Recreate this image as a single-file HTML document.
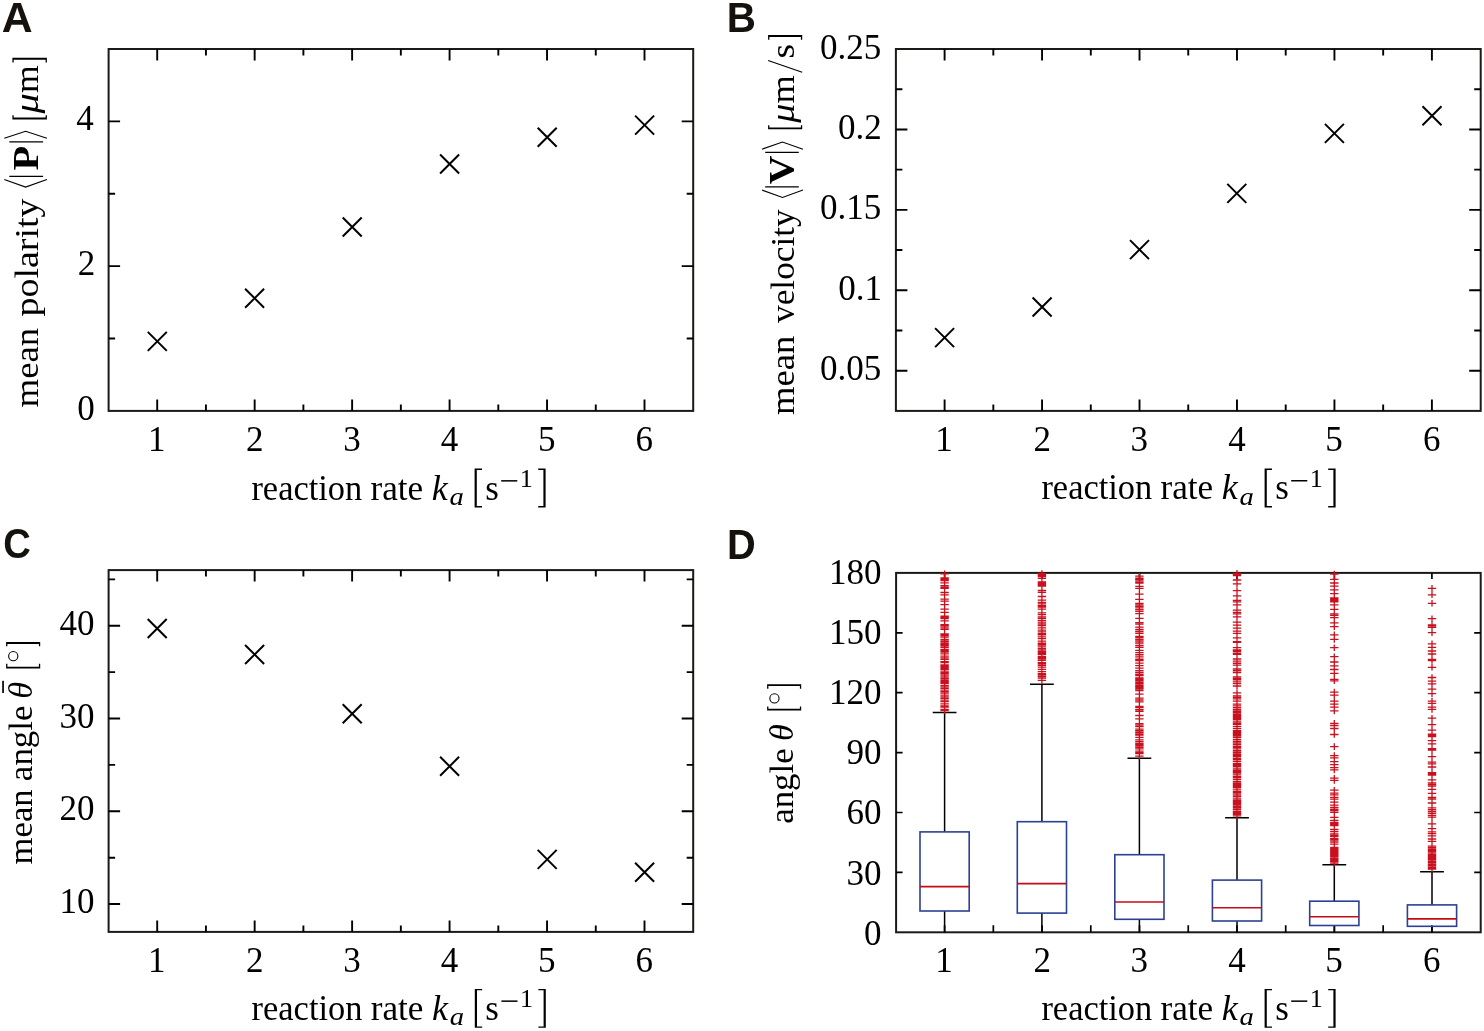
<!DOCTYPE html><html><head><meta charset="utf-8"><style>html,body{margin:0;padding:0;background:#fff;overflow:hidden}text{font-kerning:none} svg{will-change:transform}</style></head><body><svg width="1484" height="1031" viewBox="0 0 1484 1031" style="display:block">
<rect width="1484" height="1031" fill="#fff"/>
<text x="1.83" y="31.80" font-size="42.5" textLength="30.89" lengthAdjust="spacingAndGlyphs" style="font-family:'Liberation Sans', sans-serif;font-weight:bold;" fill="#15120d" >A</text>
<text x="726.80" y="32.10" font-size="42.5" textLength="29.13" lengthAdjust="spacingAndGlyphs" style="font-family:'Liberation Sans', sans-serif;font-weight:bold;" fill="#15120d" >B</text>
<text x="3.13" y="558.30" font-size="42.5" textLength="27.61" lengthAdjust="spacingAndGlyphs" style="font-family:'Liberation Sans', sans-serif;font-weight:bold;" fill="#15120d" >C</text>
<text x="726.94" y="558.70" font-size="42.5" textLength="28.73" lengthAdjust="spacingAndGlyphs" style="font-family:'Liberation Sans', sans-serif;font-weight:bold;" fill="#15120d" >D</text>
<rect x="108.6" y="49.0" width="584.60" height="361.90" fill="none" stroke="#1a1a16" stroke-width="2.0"/>
<path d="M157.20,410.9V399.4M157.20,49.0V60.5M254.66,410.9V399.4M254.66,49.0V60.5M352.12,410.9V399.4M352.12,49.0V60.5M449.58,410.9V399.4M449.58,49.0V60.5M547.04,410.9V399.4M547.04,49.0V60.5M644.50,410.9V399.4M644.50,49.0V60.5M205.93,410.9V404.4M205.93,49.0V55.5M303.39,410.9V404.4M303.39,49.0V55.5M400.85,410.9V404.4M400.85,49.0V55.5M498.31,410.9V404.4M498.31,49.0V55.5M595.77,410.9V404.4M595.77,49.0V55.5M108.6,266.14H120.1M693.2,266.14H681.7M108.6,121.38H120.1M693.2,121.38H681.7M108.6,338.52H115.1M693.2,338.52H686.7M108.6,193.76H115.1M693.2,193.76H686.7" stroke="#000" stroke-width="1.9" fill="none"/>
<path d="M147.80,331.90L166.80,350.90M147.80,350.90L166.80,331.90M245.10,288.70L264.10,307.70M245.10,307.70L264.10,288.70M342.70,217.50L361.70,236.50M342.70,236.50L361.70,217.50M440.10,154.50L459.10,173.50M440.10,173.50L459.10,154.50M537.70,127.70L556.70,146.70M537.70,146.70L556.70,127.70M635.10,115.60L654.10,134.60M635.10,134.60L654.10,115.60" stroke="#000" stroke-width="2" fill="none"/>
<text x="147.96" y="451.30" font-size="35" text-anchor="start" style="font-family:'Liberation Serif', serif;" fill="#000">1</text>
<text x="246.11" y="451.30" font-size="35" text-anchor="start" style="font-family:'Liberation Serif', serif;" fill="#000">2</text>
<text x="343.22" y="451.30" font-size="35" text-anchor="start" style="font-family:'Liberation Serif', serif;" fill="#000">3</text>
<text x="440.76" y="451.30" font-size="35" text-anchor="start" style="font-family:'Liberation Serif', serif;" fill="#000">4</text>
<text x="537.96" y="451.30" font-size="35" text-anchor="start" style="font-family:'Liberation Serif', serif;" fill="#000">5</text>
<text x="635.52" y="451.30" font-size="35" text-anchor="start" style="font-family:'Liberation Serif', serif;" fill="#000">6</text>
<text x="77.13" y="419.70" font-size="35" text-anchor="start" style="font-family:'Liberation Serif', serif;" fill="#000">0</text>
<text x="77.73" y="274.94" font-size="35" text-anchor="start" style="font-family:'Liberation Serif', serif;" fill="#000">2</text>
<text x="76.35" y="130.18" font-size="35" text-anchor="start" style="font-family:'Liberation Serif', serif;" fill="#000">4</text>
<rect x="895.9" y="49.0" width="584.80" height="361.90" fill="none" stroke="#1a1a16" stroke-width="2.0"/>
<path d="M944.60,410.9V399.4M944.60,49.0V60.5M1042.06,410.9V399.4M1042.06,49.0V60.5M1139.52,410.9V399.4M1139.52,49.0V60.5M1236.98,410.9V399.4M1236.98,49.0V60.5M1334.44,410.9V399.4M1334.44,49.0V60.5M1431.90,410.9V399.4M1431.90,49.0V60.5M993.33,410.9V404.4M993.33,49.0V55.5M1090.79,410.9V404.4M1090.79,49.0V55.5M1188.25,410.9V404.4M1188.25,49.0V55.5M1285.71,410.9V404.4M1285.71,49.0V55.5M1383.17,410.9V404.4M1383.17,49.0V55.5M895.9,370.69H907.4M1480.7,370.69H1469.2M895.9,290.27H907.4M1480.7,290.27H1469.2M895.9,209.85H907.4M1480.7,209.85H1469.2M895.9,129.43H907.4M1480.7,129.43H1469.2M895.9,330.48H902.4M1480.7,330.48H1474.2M895.9,250.06H902.4M1480.7,250.06H1474.2M895.9,169.64H902.4M1480.7,169.64H1474.2M895.9,89.22H902.4M1480.7,89.22H1474.2" stroke="#000" stroke-width="1.9" fill="none"/>
<path d="M935.10,328.10L954.10,347.10M935.10,347.10L954.10,328.10M1032.60,297.50L1051.60,316.50M1032.60,316.50L1051.60,297.50M1130.00,240.10L1149.00,259.10M1130.00,259.10L1149.00,240.10M1227.30,183.90L1246.30,202.90M1227.30,202.90L1246.30,183.90M1324.90,123.90L1343.90,142.90M1324.90,142.90L1343.90,123.90M1422.50,106.30L1441.50,125.30M1422.50,125.30L1441.50,106.30" stroke="#000" stroke-width="2" fill="none"/>
<text x="935.36" y="451.30" font-size="35" text-anchor="start" style="font-family:'Liberation Serif', serif;" fill="#000">1</text>
<text x="1033.51" y="451.30" font-size="35" text-anchor="start" style="font-family:'Liberation Serif', serif;" fill="#000">2</text>
<text x="1130.62" y="451.30" font-size="35" text-anchor="start" style="font-family:'Liberation Serif', serif;" fill="#000">3</text>
<text x="1228.16" y="451.30" font-size="35" text-anchor="start" style="font-family:'Liberation Serif', serif;" fill="#000">4</text>
<text x="1325.36" y="451.30" font-size="35" text-anchor="start" style="font-family:'Liberation Serif', serif;" fill="#000">5</text>
<text x="1422.92" y="451.30" font-size="35" text-anchor="start" style="font-family:'Liberation Serif', serif;" fill="#000">6</text>
<text x="819.92" y="380.29" font-size="35" text-anchor="start" style="font-family:'Liberation Serif', serif;" fill="#000">0.05</text>
<text x="838.15" y="299.87" font-size="35" text-anchor="start" style="font-family:'Liberation Serif', serif;" fill="#000">0.1</text>
<text x="819.92" y="219.45" font-size="35" text-anchor="start" style="font-family:'Liberation Serif', serif;" fill="#000">0.15</text>
<text x="837.98" y="139.03" font-size="35" text-anchor="start" style="font-family:'Liberation Serif', serif;" fill="#000">0.2</text>
<text x="819.92" y="58.61" font-size="35" text-anchor="start" style="font-family:'Liberation Serif', serif;" fill="#000">0.25</text>
<rect x="108.6" y="570.1" width="584.60" height="361.80" fill="none" stroke="#1a1a16" stroke-width="2.0"/>
<path d="M157.20,931.9V920.4M157.20,570.1V581.6M254.66,931.9V920.4M254.66,570.1V581.6M352.12,931.9V920.4M352.12,570.1V581.6M449.58,931.9V920.4M449.58,570.1V581.6M547.04,931.9V920.4M547.04,570.1V581.6M644.50,931.9V920.4M644.50,570.1V581.6M205.93,931.9V925.4M205.93,570.1V576.6M303.39,931.9V925.4M303.39,570.1V576.6M400.85,931.9V925.4M400.85,570.1V576.6M498.31,931.9V925.4M498.31,570.1V576.6M595.77,931.9V925.4M595.77,570.1V576.6M108.6,904.07H120.1M693.2,904.07H681.7M108.6,811.30H120.1M693.2,811.30H681.7M108.6,718.53H120.1M693.2,718.53H681.7M108.6,625.76H120.1M693.2,625.76H681.7M108.6,857.68H115.1M693.2,857.68H686.7M108.6,764.91H115.1M693.2,764.91H686.7M108.6,672.14H115.1M693.2,672.14H686.7M108.6,579.37H115.1M693.2,579.37H686.7" stroke="#000" stroke-width="1.9" fill="none"/>
<path d="M147.70,619.00L166.70,638.00M147.70,638.00L166.70,619.00M245.10,645.00L264.10,664.00M245.10,664.00L264.10,645.00M342.70,704.20L361.70,723.20M342.70,723.20L361.70,704.20M440.10,756.80L459.10,775.80M440.10,775.80L459.10,756.80M537.70,849.90L556.70,868.90M537.70,868.90L556.70,849.90M635.10,862.70L654.10,881.70M635.10,881.70L654.10,862.70" stroke="#000" stroke-width="2" fill="none"/>
<text x="147.96" y="971.80" font-size="35" text-anchor="start" style="font-family:'Liberation Serif', serif;" fill="#000">1</text>
<text x="246.11" y="971.80" font-size="35" text-anchor="start" style="font-family:'Liberation Serif', serif;" fill="#000">2</text>
<text x="343.22" y="971.80" font-size="35" text-anchor="start" style="font-family:'Liberation Serif', serif;" fill="#000">3</text>
<text x="440.76" y="971.80" font-size="35" text-anchor="start" style="font-family:'Liberation Serif', serif;" fill="#000">4</text>
<text x="537.96" y="971.80" font-size="35" text-anchor="start" style="font-family:'Liberation Serif', serif;" fill="#000">5</text>
<text x="635.52" y="971.80" font-size="35" text-anchor="start" style="font-family:'Liberation Serif', serif;" fill="#000">6</text>
<text x="59.53" y="913.07" font-size="35" text-anchor="start" style="font-family:'Liberation Serif', serif;" fill="#000">10</text>
<text x="59.53" y="820.30" font-size="35" text-anchor="start" style="font-family:'Liberation Serif', serif;" fill="#000">20</text>
<text x="59.53" y="727.53" font-size="35" text-anchor="start" style="font-family:'Liberation Serif', serif;" fill="#000">30</text>
<text x="59.53" y="634.76" font-size="35" text-anchor="start" style="font-family:'Liberation Serif', serif;" fill="#000">40</text>
<rect x="896.1" y="572.9" width="584.60" height="359.40" fill="none" stroke="#1a1a16" stroke-width="2.0"/>
<path d="M944.60,932.3V925.3M944.60,572.9V578.9M1042.06,932.3V925.3M1042.06,572.9V578.9M1139.52,932.3V925.3M1139.52,572.9V578.9M1236.98,932.3V925.3M1236.98,572.9V578.9M1334.44,932.3V925.3M1334.44,572.9V578.9M1431.90,932.3V925.3M1431.90,572.9V578.9M993.33,932.3V925.3M1090.79,932.3V925.3M1188.25,932.3V925.3M1285.71,932.3V925.3M1383.17,932.3V925.3M896.1,872.40H902.6M1480.7,872.40H1474.2M896.1,812.50H902.6M1480.7,812.50H1474.2M896.1,752.60H902.6M1480.7,752.60H1474.2M896.1,692.70H902.6M1480.7,692.70H1474.2M896.1,632.80H902.6M1480.7,632.80H1474.2" stroke="#000" stroke-width="1.7" fill="none"/>
<text x="935.36" y="972.20" font-size="35" text-anchor="start" style="font-family:'Liberation Serif', serif;" fill="#000">1</text>
<text x="1033.51" y="972.20" font-size="35" text-anchor="start" style="font-family:'Liberation Serif', serif;" fill="#000">2</text>
<text x="1130.62" y="972.20" font-size="35" text-anchor="start" style="font-family:'Liberation Serif', serif;" fill="#000">3</text>
<text x="1228.16" y="972.20" font-size="35" text-anchor="start" style="font-family:'Liberation Serif', serif;" fill="#000">4</text>
<text x="1325.36" y="972.20" font-size="35" text-anchor="start" style="font-family:'Liberation Serif', serif;" fill="#000">5</text>
<text x="1422.92" y="972.20" font-size="35" text-anchor="start" style="font-family:'Liberation Serif', serif;" fill="#000">6</text>
<text x="863.93" y="944.70" font-size="35" text-anchor="start" style="font-family:'Liberation Serif', serif;" fill="#000">0</text>
<text x="846.43" y="884.50" font-size="35" text-anchor="start" style="font-family:'Liberation Serif', serif;" fill="#000">30</text>
<text x="846.43" y="824.30" font-size="35" text-anchor="start" style="font-family:'Liberation Serif', serif;" fill="#000">60</text>
<text x="846.43" y="764.10" font-size="35" text-anchor="start" style="font-family:'Liberation Serif', serif;" fill="#000">90</text>
<text x="828.93" y="703.90" font-size="35" text-anchor="start" style="font-family:'Liberation Serif', serif;" fill="#000">120</text>
<text x="828.93" y="643.70" font-size="35" text-anchor="start" style="font-family:'Liberation Serif', serif;" fill="#000">150</text>
<text x="828.93" y="583.50" font-size="35" text-anchor="start" style="font-family:'Liberation Serif', serif;" fill="#000">180</text>
<path d="M944.60,932.3V911.00M944.60,831.90V712.40M932.70,712.40H956.50" stroke="#000" stroke-width="1.5" fill="none"/>
<rect x="920.00" y="831.90" width="49.20" height="79.10" fill="none" stroke="#2c4094" stroke-width="1.6"/>
<path d="M920.00,886.60H969.20" stroke="#c40c18" stroke-width="1.6"/>
<path d="M1041.90,932.3V913.10M1041.90,821.70V684.20M1030.00,684.20H1053.80" stroke="#000" stroke-width="1.5" fill="none"/>
<rect x="1017.30" y="821.70" width="49.20" height="91.40" fill="none" stroke="#2c4094" stroke-width="1.6"/>
<path d="M1017.30,883.60H1066.50" stroke="#c40c18" stroke-width="1.6"/>
<path d="M1139.40,932.3V919.30M1139.40,854.70V758.20M1127.50,758.20H1151.30" stroke="#000" stroke-width="1.5" fill="none"/>
<rect x="1114.80" y="854.70" width="49.20" height="64.60" fill="none" stroke="#2c4094" stroke-width="1.6"/>
<path d="M1114.80,902.00H1164.00" stroke="#c40c18" stroke-width="1.6"/>
<path d="M1237.00,932.3V921.00M1237.00,880.10V817.80M1225.10,817.80H1248.90" stroke="#000" stroke-width="1.5" fill="none"/>
<rect x="1212.40" y="880.10" width="49.20" height="40.90" fill="none" stroke="#2c4094" stroke-width="1.6"/>
<path d="M1212.40,907.70H1261.60" stroke="#c40c18" stroke-width="1.6"/>
<path d="M1334.30,932.3V925.50M1334.30,901.20V864.70M1322.40,864.70H1346.20" stroke="#000" stroke-width="1.5" fill="none"/>
<rect x="1309.70" y="901.20" width="49.20" height="24.30" fill="none" stroke="#2c4094" stroke-width="1.6"/>
<path d="M1309.70,916.70H1358.90" stroke="#c40c18" stroke-width="1.6"/>
<path d="M1432.00,932.3V926.30M1432.00,904.90V871.70M1420.10,871.70H1443.90" stroke="#000" stroke-width="1.5" fill="none"/>
<rect x="1407.40" y="904.90" width="49.20" height="21.40" fill="none" stroke="#2c4094" stroke-width="1.6"/>
<path d="M1407.40,918.90H1456.60" stroke="#c40c18" stroke-width="1.6"/>
<path d="M940.40,573.80H948.80M944.60,570.50V577.10M940.40,577.80H948.80M944.60,574.50V581.10M940.40,579.10H948.80M944.60,575.80V582.40M940.40,580.50H948.80M944.60,577.20V583.80M940.40,582.80H948.80M944.60,579.50V586.10M940.40,585.60H948.80M944.60,582.30V588.90M940.40,587.12H948.80M944.60,583.82V590.42M940.40,588.47H948.80M944.60,585.17V591.77M940.40,592.50H948.80M944.60,589.20V595.80M940.40,594.90H948.80M944.60,591.60V598.20M940.40,599.10H948.80M944.60,595.80V602.40M940.40,601.10H948.80M944.60,597.80V604.40M940.40,604.60H948.80M944.60,601.30V607.90M940.40,609.20H948.80M944.60,605.90V612.50M940.40,612.30H948.80M944.60,609.00V615.60M940.40,616.20H948.80M944.60,612.90V619.50M940.40,617.30H948.80M944.60,614.00V620.60M940.40,618.50H948.80M944.60,615.20V621.80M940.40,620.90H948.80M944.60,617.60V624.20M940.40,624.70H948.80M944.60,621.40V628.00M940.40,625.99H948.80M944.60,622.69V629.29M940.40,627.83H948.80M944.60,624.53V631.13M940.40,629.47H948.80M944.60,626.17V632.77M940.40,634.00H948.80M944.60,630.70V637.30M940.40,635.50H948.80M944.60,632.20V638.80M940.40,637.10H948.80M944.60,633.80V640.40M940.40,639.50H948.80M944.60,636.20V642.80M940.40,641.16H948.80M944.60,637.86V644.46M940.40,642.21H948.80M944.60,638.91V645.51M940.40,643.77H948.80M944.60,640.47V647.07M940.40,644.86H948.80M944.60,641.56V648.16M940.40,645.98H948.80M944.60,642.68V649.28M940.40,647.53H948.80M944.60,644.23V650.83M940.40,649.61H948.80M944.60,646.31V652.91M940.40,650.77H948.80M944.60,647.47V654.07M940.40,652.06H948.80M944.60,648.76V655.36M940.40,653.87H948.80M944.60,650.57V657.17M940.40,656.11H948.80M944.60,652.81V659.41M940.40,657.86H948.80M944.60,654.56V661.16M940.40,659.37H948.80M944.60,656.07V662.67M940.40,661.64H948.80M944.60,658.34V664.94M940.40,662.70H948.80M944.60,659.40V666.00M940.40,664.82H948.80M944.60,661.52V668.12M940.40,666.19H948.80M944.60,662.89V669.49M940.40,667.38H948.80M944.60,664.08V670.68M940.40,668.54H948.80M944.60,665.24V671.84M940.40,669.94H948.80M944.60,666.64V673.24M940.40,672.00H948.80M944.60,668.70V675.30M940.40,673.23H948.80M944.60,669.93V676.53M940.40,674.99H948.80M944.60,671.69V678.29M940.40,676.82H948.80M944.60,673.52V680.12M940.40,678.30H948.80M944.60,675.00V681.60M940.40,680.02H948.80M944.60,676.72V683.32M940.40,681.10H948.80M944.60,677.80V684.40M940.40,682.17H948.80M944.60,678.87V685.47M940.40,683.44H948.80M944.60,680.14V686.74M940.40,685.33H948.80M944.60,682.03V688.63M940.40,686.88H948.80M944.60,683.58V690.18M940.40,688.29H948.80M944.60,684.99V691.59M940.40,690.05H948.80M944.60,686.75V693.35M940.40,691.64H948.80M944.60,688.34V694.94M940.40,693.03H948.80M944.60,689.73V696.33M940.40,695.06H948.80M944.60,691.76V698.36M940.40,696.97H948.80M944.60,693.67V700.27M940.40,698.29H948.80M944.60,694.99V701.59M940.40,700.04H948.80M944.60,696.74V703.34M940.40,701.72H948.80M944.60,698.42V705.02M940.40,703.86H948.80M944.60,700.56V707.16M940.40,705.80H948.80M944.60,702.50V709.10M940.40,707.18H948.80M944.60,703.88V710.48M940.40,709.45H948.80M944.60,706.15V712.75M940.40,710.61H948.80M944.60,707.31V713.91M1037.70,573.50H1046.10M1041.90,570.20V576.80M1037.70,575.00H1046.10M1041.90,571.70V578.30M1037.70,576.50H1046.10M1041.90,573.20V579.80M1037.70,578.30H1046.10M1041.90,575.00V581.60M1037.70,582.00H1046.10M1041.90,578.70V585.30M1037.70,583.50H1046.10M1041.90,580.20V586.80M1037.70,585.00H1046.10M1041.90,581.70V588.30M1037.70,586.20H1046.10M1041.90,582.90V589.50M1037.70,590.50H1046.10M1041.90,587.20V593.80M1037.70,592.30H1046.10M1041.90,589.00V595.60M1037.70,596.50H1046.10M1041.90,593.20V599.80M1037.70,600.20H1046.10M1041.90,596.90V603.50M1037.70,602.46H1046.10M1041.90,599.16V605.76M1037.70,603.87H1046.10M1041.90,600.57V607.17M1037.70,605.76H1046.10M1041.90,602.46V609.06M1037.70,607.01H1046.10M1041.90,603.71V610.31M1037.70,609.15H1046.10M1041.90,605.85V612.45M1037.70,612.90H1046.10M1041.90,609.60V616.20M1037.70,614.70H1046.10M1041.90,611.40V618.00M1037.70,616.93H1046.10M1041.90,613.63V620.23M1037.70,618.37H1046.10M1041.90,615.07V621.67M1037.70,620.34H1046.10M1041.90,617.04V623.64M1037.70,622.17H1046.10M1041.90,618.87V625.47M1037.70,623.98H1046.10M1041.90,620.68V627.28M1037.70,625.62H1046.10M1041.90,622.32V628.92M1037.70,627.80H1046.10M1041.90,624.50V631.10M1037.70,630.12H1046.10M1041.90,626.82V633.42M1037.70,631.79H1046.10M1041.90,628.49V635.09M1037.70,633.72H1046.10M1041.90,630.42V637.02M1037.70,634.80H1046.10M1041.90,631.50V638.10M1037.70,636.78H1046.10M1041.90,633.48V640.08M1037.70,638.69H1046.10M1041.90,635.39V641.99M1037.70,641.08H1046.10M1041.90,637.78V644.38M1037.70,643.23H1046.10M1041.90,639.93V646.53M1037.70,644.63H1046.10M1041.90,641.33V647.93M1037.70,646.17H1046.10M1041.90,642.87V649.47M1037.70,648.10H1046.10M1041.90,644.80V651.40M1037.70,649.14H1046.10M1041.90,645.84V652.44M1037.70,650.78H1046.10M1041.90,647.48V654.08M1037.70,652.02H1046.10M1041.90,648.72V655.32M1037.70,653.18H1046.10M1041.90,649.88V656.48M1037.70,654.26H1046.10M1041.90,650.96V657.56M1037.70,656.34H1046.10M1041.90,653.04V659.64M1037.70,657.52H1046.10M1041.90,654.22V660.82M1037.70,658.87H1046.10M1041.90,655.57V662.17M1037.70,660.41H1046.10M1041.90,657.11V663.71M1037.70,662.63H1046.10M1041.90,659.33V665.93M1037.70,663.75H1046.10M1041.90,660.45V667.05M1037.70,665.38H1046.10M1041.90,662.08V668.68M1037.70,667.15H1046.10M1041.90,663.85V670.45M1037.70,669.38H1046.10M1041.90,666.08V672.68M1037.70,671.53H1046.10M1041.90,668.23V674.83M1037.70,673.74H1046.10M1041.90,670.44V677.04M1037.70,675.13H1046.10M1041.90,671.83V678.43M1037.70,676.71H1046.10M1041.90,673.41V680.01M1037.70,678.21H1046.10M1041.90,674.91V681.51M1037.70,680.45H1046.10M1041.90,677.15V683.75M1135.20,576.20H1143.60M1139.40,572.90V579.50M1135.20,578.10H1143.60M1139.40,574.80V581.40M1135.20,579.00H1143.60M1139.40,575.70V582.30M1135.20,580.00H1143.60M1139.40,576.70V583.30M1135.20,582.00H1143.60M1139.40,578.70V585.30M1135.20,583.00H1143.60M1139.40,579.70V586.30M1135.20,586.30H1143.60M1139.40,583.00V589.60M1135.20,588.30H1143.60M1139.40,585.00V591.60M1135.20,594.10H1143.60M1139.40,590.80V597.40M1135.20,599.40H1143.60M1139.40,596.10V602.70M1135.20,603.30H1143.60M1139.40,600.00V606.60M1135.20,604.80H1143.60M1139.40,601.50V608.10M1135.20,606.33H1143.60M1139.40,603.03V609.63M1135.20,607.93H1143.60M1139.40,604.63V611.23M1135.20,609.53H1143.60M1139.40,606.23V612.83M1135.20,611.46H1143.60M1139.40,608.16V614.76M1135.20,613.53H1143.60M1139.40,610.23V616.83M1135.20,618.30H1143.60M1139.40,615.00V621.60M1135.20,622.70H1143.60M1139.40,619.40V626.00M1135.20,624.20H1143.60M1139.40,620.90V627.50M1135.20,627.10H1143.60M1139.40,623.80V630.40M1135.20,629.50H1143.60M1139.40,626.20V632.80M1135.20,631.50H1143.60M1139.40,628.20V634.80M1135.20,633.40H1143.60M1139.40,630.10V636.70M1135.20,636.30H1143.60M1139.40,633.00V639.60M1135.20,637.51H1143.60M1139.40,634.21V640.81M1135.20,639.29H1143.60M1139.40,635.99V642.59M1135.20,641.01H1143.60M1139.40,637.71V644.31M1135.20,643.00H1143.60M1139.40,639.70V646.30M1135.20,645.50H1143.60M1139.40,642.20V648.80M1135.20,647.40H1143.60M1139.40,644.10V650.70M1135.20,650.40H1143.60M1139.40,647.10V653.70M1135.20,652.70H1143.60M1139.40,649.40V656.00M1135.20,654.73H1143.60M1139.40,651.43V658.03M1135.20,656.92H1143.60M1139.40,653.62V660.22M1135.20,659.20H1143.60M1139.40,655.90V662.50M1135.20,660.49H1143.60M1139.40,657.19V663.79M1135.20,663.13H1143.60M1139.40,659.83V666.43M1135.20,665.57H1143.60M1139.40,662.27V668.87M1135.20,668.17H1143.60M1139.40,664.87V671.47M1135.20,670.65H1143.60M1139.40,667.35V673.95M1135.20,672.48H1143.60M1139.40,669.18V675.78M1135.20,674.32H1143.60M1139.40,671.02V677.62M1135.20,675.68H1143.60M1139.40,672.38V678.98M1135.20,677.90H1143.60M1139.40,674.60V681.20M1135.20,679.20H1143.60M1139.40,675.90V682.50M1135.20,680.50H1143.60M1139.40,677.20V683.80M1135.20,682.04H1143.60M1139.40,678.74V685.34M1135.20,683.50H1143.60M1139.40,680.20V686.80M1135.20,685.24H1143.60M1139.40,681.94V688.54M1135.20,686.53H1143.60M1139.40,683.23V689.83M1135.20,687.73H1143.60M1139.40,684.43V691.03M1135.20,689.17H1143.60M1139.40,685.87V692.47M1135.20,690.53H1143.60M1139.40,687.23V693.83M1135.20,694.10H1143.60M1139.40,690.80V697.40M1135.20,698.20H1143.60M1139.40,694.90V701.50M1135.20,700.00H1143.60M1139.40,696.70V703.30M1135.20,701.80H1143.60M1139.40,698.50V705.10M1135.20,706.30H1143.60M1139.40,703.00V709.60M1135.20,707.43H1143.60M1139.40,704.13V710.73M1135.20,709.49H1143.60M1139.40,706.19V712.79M1135.20,711.27H1143.60M1139.40,707.97V714.57M1135.20,715.50H1143.60M1139.40,712.20V718.80M1135.20,718.90H1143.60M1139.40,715.60V722.20M1135.20,723.60H1143.60M1139.40,720.30V726.90M1135.20,725.10H1143.60M1139.40,721.80V728.40M1135.20,726.70H1143.60M1139.40,723.40V730.00M1135.20,729.20H1143.60M1139.40,725.90V732.50M1135.20,730.65H1143.60M1139.40,727.35V733.95M1135.20,732.24H1143.60M1139.40,728.94V735.54M1135.20,733.85H1143.60M1139.40,730.55V737.15M1135.20,735.12H1143.60M1139.40,731.82V738.42M1135.20,737.41H1143.60M1139.40,734.11V740.71M1135.20,739.90H1143.60M1139.40,736.60V743.20M1135.20,741.65H1143.60M1139.40,738.35V744.95M1135.20,743.43H1143.60M1139.40,740.13V746.73M1135.20,744.65H1143.60M1139.40,741.35V747.95M1135.20,745.89H1143.60M1139.40,742.59V749.19M1135.20,747.47H1143.60M1139.40,744.17V750.77M1135.20,748.94H1143.60M1139.40,745.64V752.24M1135.20,751.20H1143.60M1139.40,747.90V754.50M1135.20,752.53H1143.60M1139.40,749.23V755.83M1135.20,753.66H1143.60M1139.40,750.36V756.96M1135.20,756.09H1143.60M1139.40,752.79V759.39M1232.80,573.30H1241.20M1237.00,570.00V576.60M1232.80,574.50H1241.20M1237.00,571.20V577.80M1232.80,575.50H1241.20M1237.00,572.20V578.80M1232.80,580.00H1241.20M1237.00,576.70V583.30M1232.80,583.80H1241.20M1237.00,580.50V587.10M1232.80,590.60H1241.20M1237.00,587.30V593.90M1232.80,595.80H1241.20M1237.00,592.50V599.10M1232.80,600.30H1241.20M1237.00,597.00V603.60M1232.80,601.80H1241.20M1237.00,598.50V605.10M1232.80,604.80H1241.20M1237.00,601.50V608.10M1232.80,610.10H1241.20M1237.00,606.80V613.40M1232.80,612.40H1241.20M1237.00,609.10V615.70M1232.80,613.90H1241.20M1237.00,610.60V617.20M1232.80,616.90H1241.20M1237.00,613.60V620.20M1232.80,622.10H1241.20M1237.00,618.80V625.40M1232.80,625.20H1241.20M1237.00,621.90V628.50M1232.80,628.20H1241.20M1237.00,624.90V631.50M1232.80,631.20H1241.20M1237.00,627.90V634.50M1232.80,633.40H1241.20M1237.00,630.10V636.70M1232.80,637.90H1241.20M1237.00,634.60V641.20M1232.80,641.70H1241.20M1237.00,638.40V645.00M1232.80,642.40H1241.20M1237.00,639.10V645.70M1232.80,647.70H1241.20M1237.00,644.40V651.00M1232.80,650.00H1241.20M1237.00,646.70V653.30M1232.80,651.35H1241.20M1237.00,648.05V654.65M1232.80,653.09H1241.20M1237.00,649.79V656.39M1232.80,654.32H1241.20M1237.00,651.02V657.62M1232.80,659.00H1241.20M1237.00,655.70V662.30M1232.80,661.18H1241.20M1237.00,657.88V664.48M1232.80,663.24H1241.20M1237.00,659.94V666.54M1232.80,665.14H1241.20M1237.00,661.84V668.44M1232.80,668.80H1241.20M1237.00,665.50V672.10M1232.80,670.50H1241.20M1237.00,667.20V673.80M1232.80,672.50H1241.20M1237.00,669.20V675.80M1232.80,677.00H1241.20M1237.00,673.70V680.30M1232.80,678.57H1241.20M1237.00,675.27V681.87M1232.80,679.93H1241.20M1237.00,676.63V683.23M1232.80,681.91H1241.20M1237.00,678.61V685.21M1232.80,683.64H1241.20M1237.00,680.34V686.94M1232.80,686.00H1241.20M1237.00,682.70V689.30M1232.80,692.80H1241.20M1237.00,689.50V696.10M1232.80,695.80H1241.20M1237.00,692.50V699.10M1232.80,697.40H1241.20M1237.00,694.10V700.70M1232.80,698.86H1241.20M1237.00,695.56V702.16M1232.80,701.04H1241.20M1237.00,697.74V704.34M1232.80,704.10H1241.20M1237.00,700.80V707.40M1232.80,705.94H1241.20M1237.00,702.64V709.24M1232.80,707.72H1241.20M1237.00,704.42V711.02M1232.80,709.52H1241.20M1237.00,706.22V712.82M1232.80,711.24H1241.20M1237.00,707.94V714.54M1232.80,712.39H1241.20M1237.00,709.09V715.69M1232.80,713.86H1241.20M1237.00,710.56V717.16M1232.80,715.15H1241.20M1237.00,711.85V718.45M1232.80,716.08H1241.20M1237.00,712.78V719.38M1232.80,717.01H1241.20M1237.00,713.71V720.31M1232.80,718.22H1241.20M1237.00,714.92V721.52M1232.80,719.40H1241.20M1237.00,716.10V722.70M1232.80,721.07H1241.20M1237.00,717.77V724.37M1232.80,723.02H1241.20M1237.00,719.72V726.32M1232.80,724.41H1241.20M1237.00,721.11V727.71M1232.80,726.34H1241.20M1237.00,723.04V729.64M1232.80,728.33H1241.20M1237.00,725.03V731.63M1232.80,730.28H1241.20M1237.00,726.98V733.58M1232.80,731.58H1241.20M1237.00,728.28V734.88M1232.80,732.72H1241.20M1237.00,729.42V736.02M1232.80,733.87H1241.20M1237.00,730.57V737.17M1232.80,734.99H1241.20M1237.00,731.69V738.29M1232.80,736.11H1241.20M1237.00,732.81V739.41M1232.80,737.70H1241.20M1237.00,734.40V741.00M1232.80,739.59H1241.20M1237.00,736.29V742.89M1232.80,741.41H1241.20M1237.00,738.11V744.71M1232.80,742.84H1241.20M1237.00,739.54V746.14M1232.80,744.46H1241.20M1237.00,741.16V747.76M1232.80,746.24H1241.20M1237.00,742.94V749.54M1232.80,747.23H1241.20M1237.00,743.93V750.53M1232.80,748.86H1241.20M1237.00,745.56V752.16M1232.80,750.76H1241.20M1237.00,747.46V754.06M1232.80,752.52H1241.20M1237.00,749.22V755.82M1232.80,754.24H1241.20M1237.00,750.94V757.54M1232.80,755.67H1241.20M1237.00,752.37V758.97M1232.80,756.77H1241.20M1237.00,753.47V760.07M1232.80,758.54H1241.20M1237.00,755.24V761.84M1232.80,759.80H1241.20M1237.00,756.50V763.10M1232.80,761.58H1241.20M1237.00,758.28V764.88M1232.80,763.55H1241.20M1237.00,760.25V766.85M1232.80,764.89H1241.20M1237.00,761.59V768.19M1232.80,766.23H1241.20M1237.00,762.93V769.53M1232.80,768.17H1241.20M1237.00,764.87V771.47M1232.80,769.87H1241.20M1237.00,766.57V773.17M1232.80,770.95H1241.20M1237.00,767.65V774.25M1232.80,771.99H1241.20M1237.00,768.69V775.29M1232.80,773.06H1241.20M1237.00,769.76V776.36M1232.80,774.95H1241.20M1237.00,771.65V778.25M1232.80,776.74H1241.20M1237.00,773.44V780.04M1232.80,777.80H1241.20M1237.00,774.50V781.10M1232.80,779.61H1241.20M1237.00,776.31V782.91M1232.80,781.59H1241.20M1237.00,778.29V784.89M1232.80,783.21H1241.20M1237.00,779.91V786.51M1232.80,784.50H1241.20M1237.00,781.20V787.80M1232.80,786.00H1241.20M1237.00,782.70V789.30M1232.80,787.05H1241.20M1237.00,783.75V790.35M1232.80,787.96H1241.20M1237.00,784.66V791.26M1232.80,789.93H1241.20M1237.00,786.63V793.23M1232.80,791.54H1241.20M1237.00,788.24V794.84M1232.80,793.02H1241.20M1237.00,789.72V796.32M1232.80,794.95H1241.20M1237.00,791.65V798.25M1232.80,796.33H1241.20M1237.00,793.03V799.63M1232.80,798.19H1241.20M1237.00,794.89V801.49M1232.80,800.00H1241.20M1237.00,796.70V803.30M1232.80,801.13H1241.20M1237.00,797.83V804.43M1232.80,802.30H1241.20M1237.00,799.00V805.60M1232.80,803.53H1241.20M1237.00,800.23V806.83M1232.80,804.69H1241.20M1237.00,801.39V807.99M1232.80,806.24H1241.20M1237.00,802.94V809.54M1232.80,807.42H1241.20M1237.00,804.12V810.72M1232.80,808.78H1241.20M1237.00,805.48V812.08M1232.80,809.83H1241.20M1237.00,806.53V813.13M1232.80,811.73H1241.20M1237.00,808.43V815.03M1232.80,813.02H1241.20M1237.00,809.72V816.32M1232.80,814.42H1241.20M1237.00,811.12V817.72M1232.80,815.96H1241.20M1237.00,812.66V819.26M1330.10,574.00H1338.50M1334.30,570.70V577.30M1330.10,579.30H1338.50M1334.30,576.00V582.60M1330.10,583.00H1338.50M1334.30,579.70V586.30M1330.10,586.10H1338.50M1334.30,582.80V589.40M1330.10,589.80H1338.50M1334.30,586.50V593.10M1330.10,593.60H1338.50M1334.30,590.30V596.90M1330.10,598.00H1338.50M1334.30,594.70V601.30M1330.10,599.30H1338.50M1334.30,596.00V602.60M1330.10,600.50H1338.50M1334.30,597.20V603.80M1330.10,601.80H1338.50M1334.30,598.50V605.10M1330.10,604.80H1338.50M1334.30,601.50V608.10M1330.10,609.40H1338.50M1334.30,606.10V612.70M1330.10,613.90H1338.50M1334.30,610.60V617.20M1330.10,615.40H1338.50M1334.30,612.10V618.70M1330.10,617.60H1338.50M1334.30,614.30V620.90M1330.10,622.90H1338.50M1334.30,619.60V626.20M1330.10,626.70H1338.50M1334.30,623.40V630.00M1330.10,634.90H1338.50M1334.30,631.60V638.20M1330.10,639.40H1338.50M1334.30,636.10V642.70M1330.10,647.70H1338.50M1334.30,644.40V651.00M1330.10,656.70H1338.50M1334.30,653.40V660.00M1330.10,662.00H1338.50M1334.30,658.70V665.30M1330.10,665.80H1338.50M1334.30,662.50V669.10M1330.10,669.50H1338.50M1334.30,666.20V672.80M1330.10,673.30H1338.50M1334.30,670.00V676.60M1330.10,679.30H1338.50M1334.30,676.00V682.60M1330.10,680.80H1338.50M1334.30,677.50V684.10M1330.10,692.10H1338.50M1334.30,688.80V695.40M1330.10,695.10H1338.50M1334.30,691.80V698.40M1330.10,701.10H1338.50M1334.30,697.80V704.40M1330.10,704.10H1338.50M1334.30,700.80V707.40M1330.10,707.10H1338.50M1334.30,703.80V710.40M1330.10,710.90H1338.50M1334.30,707.60V714.20M1330.10,723.30H1338.50M1334.30,720.00V726.60M1330.10,725.50H1338.50M1334.30,722.20V728.80M1330.10,728.50H1338.50M1334.30,725.20V731.80M1330.10,734.50H1338.50M1334.30,731.20V737.80M1330.10,746.60H1338.50M1334.30,743.30V749.90M1330.10,755.60H1338.50M1334.30,752.30V758.90M1330.10,757.90H1338.50M1334.30,754.60V761.20M1330.10,761.60H1338.50M1334.30,758.30V764.90M1330.10,764.60H1338.50M1334.30,761.30V767.90M1330.10,767.60H1338.50M1334.30,764.30V770.90M1330.10,769.90H1338.50M1334.30,766.60V773.20M1330.10,778.20H1338.50M1334.30,774.90V781.50M1330.10,780.40H1338.50M1334.30,777.10V783.70M1330.10,790.20H1338.50M1334.30,786.90V793.50M1330.10,793.20H1338.50M1334.30,789.90V796.50M1330.10,794.95H1338.50M1334.30,791.65V798.25M1330.10,797.34H1338.50M1334.30,794.04V800.64M1330.10,799.19H1338.50M1334.30,795.89V802.49M1330.10,802.20H1338.50M1334.30,798.90V805.50M1330.10,805.20H1338.50M1334.30,801.90V808.50M1330.10,807.50H1338.50M1334.30,804.20V810.80M1330.10,809.38H1338.50M1334.30,806.08V812.68M1330.10,810.60H1338.50M1334.30,807.30V813.90M1330.10,812.38H1338.50M1334.30,809.08V815.68M1330.10,817.30H1338.50M1334.30,814.00V820.60M1330.10,820.30H1338.50M1334.30,817.00V823.60M1330.10,822.50H1338.50M1334.30,819.20V825.80M1330.10,824.00H1338.50M1334.30,820.70V827.30M1330.10,825.50H1338.50M1334.30,822.20V828.80M1330.10,829.30H1338.50M1334.30,826.00V832.60M1330.10,831.50H1338.50M1334.30,828.20V834.80M1330.10,833.80H1338.50M1334.30,830.50V837.10M1330.10,835.30H1338.50M1334.30,832.00V838.60M1330.10,836.51H1338.50M1334.30,833.21V839.81M1330.10,838.74H1338.50M1334.30,835.44V842.04M1330.10,840.17H1338.50M1334.30,836.87V843.47M1330.10,841.98H1338.50M1334.30,838.68V845.28M1330.10,844.13H1338.50M1334.30,840.83V847.43M1330.10,847.30H1338.50M1334.30,844.00V850.60M1330.10,848.36H1338.50M1334.30,845.06V851.66M1330.10,849.58H1338.50M1334.30,846.28V852.88M1330.10,850.82H1338.50M1334.30,847.52V854.12M1330.10,852.25H1338.50M1334.30,848.95V855.55M1330.10,853.13H1338.50M1334.30,849.83V856.43M1330.10,854.38H1338.50M1334.30,851.08V857.68M1330.10,855.38H1338.50M1334.30,852.08V858.68M1330.10,856.40H1338.50M1334.30,853.10V859.70M1330.10,857.82H1338.50M1334.30,854.52V861.12M1330.10,859.02H1338.50M1334.30,855.72V862.32M1330.10,860.27H1338.50M1334.30,856.97V863.57M1330.10,861.68H1338.50M1334.30,858.38V864.98M1330.10,863.21H1338.50M1334.30,859.91V866.51M1427.80,588.30H1436.20M1432.00,585.00V591.60M1427.80,594.80H1436.20M1432.00,591.50V598.10M1427.80,603.30H1436.20M1432.00,600.00V606.60M1427.80,618.70H1436.20M1432.00,615.40V622.00M1427.80,624.80H1436.20M1432.00,621.50V628.10M1427.80,625.40H1436.20M1432.00,622.10V628.70M1427.80,625.90H1436.20M1432.00,622.60V629.20M1427.80,627.40H1436.20M1432.00,624.10V630.70M1427.80,632.70H1436.20M1432.00,629.40V636.00M1427.80,643.90H1436.20M1432.00,640.60V647.20M1427.80,647.40H1436.20M1432.00,644.10V650.70M1427.80,651.00H1436.20M1432.00,647.70V654.30M1427.80,654.00H1436.20M1432.00,650.70V657.30M1427.80,659.40H1436.20M1432.00,656.10V662.70M1427.80,660.00H1436.20M1432.00,656.70V663.30M1427.80,660.50H1436.20M1432.00,657.20V663.80M1427.80,667.30H1436.20M1432.00,664.00V670.60M1427.80,677.50H1436.20M1432.00,674.20V680.80M1427.80,681.10H1436.20M1432.00,677.80V684.40M1427.80,683.80H1436.20M1432.00,680.50V687.10M1427.80,689.10H1436.20M1432.00,685.80V692.40M1427.80,693.60H1436.20M1432.00,690.30V696.90M1427.80,701.10H1436.20M1432.00,697.80V704.40M1427.80,703.30H1436.20M1432.00,700.00V706.60M1427.80,707.10H1436.20M1432.00,703.80V710.40M1427.80,709.40H1436.20M1432.00,706.10V712.70M1427.80,718.20H1436.20M1432.00,714.90V721.50M1427.80,724.60H1436.20M1432.00,721.30V727.90M1427.80,730.20H1436.20M1432.00,726.90V733.50M1427.80,734.20H1436.20M1432.00,730.90V737.50M1427.80,735.40H1436.20M1432.00,732.10V738.70M1427.80,736.60H1436.20M1432.00,733.30V739.90M1427.80,740.60H1436.20M1432.00,737.30V743.90M1427.80,743.80H1436.20M1432.00,740.50V747.10M1427.80,748.60H1436.20M1432.00,745.30V751.90M1427.80,749.40H1436.20M1432.00,746.10V752.70M1427.80,750.20H1436.20M1432.00,746.90V753.50M1427.80,756.60H1436.20M1432.00,753.30V759.90M1427.80,762.20H1436.20M1432.00,758.90V765.50M1427.80,763.80H1436.20M1432.00,760.50V767.10M1427.80,767.00H1436.20M1432.00,763.70V770.30M1427.80,772.60H1436.20M1432.00,769.30V775.90M1427.80,773.80H1436.20M1432.00,770.50V777.10M1427.80,775.00H1436.20M1432.00,771.70V778.30M1427.80,779.80H1436.20M1432.00,776.50V783.10M1427.80,783.00H1436.20M1432.00,779.70V786.30M1427.80,784.60H1436.20M1432.00,781.30V787.90M1427.80,786.20H1436.20M1432.00,782.90V789.50M1427.80,789.40H1436.20M1432.00,786.10V792.70M1427.80,793.40H1436.20M1432.00,790.10V796.70M1427.80,797.40H1436.20M1432.00,794.10V800.70M1427.80,799.00H1436.20M1432.00,795.70V802.30M1427.80,803.00H1436.20M1432.00,799.70V806.30M1427.80,807.80H1436.20M1432.00,804.50V811.10M1427.80,809.74H1436.20M1432.00,806.44V813.04M1427.80,811.54H1436.20M1432.00,808.24V814.84M1427.80,813.36H1436.20M1432.00,810.06V816.66M1427.80,815.39H1436.20M1432.00,812.09V818.69M1427.80,817.13H1436.20M1432.00,813.83V820.43M1427.80,823.80H1436.20M1432.00,820.50V827.10M1427.80,828.60H1436.20M1432.00,825.30V831.90M1427.80,831.80H1436.20M1432.00,828.50V835.10M1427.80,833.57H1436.20M1432.00,830.27V836.87M1427.80,835.90H1436.20M1432.00,832.60V839.20M1427.80,839.00H1436.20M1432.00,835.70V842.30M1427.80,841.40H1436.20M1432.00,838.10V844.70M1427.80,846.20H1436.20M1432.00,842.90V849.50M1427.80,847.70H1436.20M1432.00,844.40V851.00M1427.80,849.25H1436.20M1432.00,845.95V852.55M1427.80,850.26H1436.20M1432.00,846.96V853.56M1427.80,851.51H1436.20M1432.00,848.21V854.81M1427.80,853.06H1436.20M1432.00,849.76V856.36M1427.80,854.54H1436.20M1432.00,851.24V857.84M1427.80,855.45H1436.20M1432.00,852.15V858.75M1427.80,856.34H1436.20M1432.00,853.04V859.64M1427.80,857.50H1436.20M1432.00,854.20V860.80M1427.80,858.36H1436.20M1432.00,855.06V861.66M1427.80,859.35H1436.20M1432.00,856.05V862.65M1427.80,860.21H1436.20M1432.00,856.91V863.51M1427.80,861.54H1436.20M1432.00,858.24V864.84M1427.80,862.97H1436.20M1432.00,859.67V866.27M1427.80,864.49H1436.20M1432.00,861.19V867.79M1427.80,865.41H1436.20M1432.00,862.11V868.71M1427.80,866.78H1436.20M1432.00,863.48V870.08M1427.80,868.11H1436.20M1432.00,864.81V871.41M1427.80,869.03H1436.20M1432.00,865.73V872.33" stroke="#c8101e" stroke-width="1.3" fill="none"/>
<text x="251.41" y="499.50" font-size="35" textLength="110.81" lengthAdjust="spacingAndGlyphs" style="font-family:'Liberation Serif', serif;" fill="#000" >reaction</text>
<text x="370.50" y="499.50" font-size="35" textLength="52.72" lengthAdjust="spacingAndGlyphs" style="font-family:'Liberation Serif', serif;" fill="#000" >rate</text>
<text x="431.76" y="499.50" font-size="35" textLength="16.01" lengthAdjust="spacingAndGlyphs" style="font-family:'Liberation Serif', serif;font-style:italic;" fill="#000" >k</text>
<text x="449.45" y="504.60" font-size="24.5" textLength="14.33" lengthAdjust="spacingAndGlyphs" style="font-family:'Liberation Serif', serif;font-style:italic;" fill="#000" >a</text>
<path d="M474.60,468.60H482.00V470.00H476.80V506.10H482.00V507.50H474.60Z" fill="#000"/>
<text x="485.17" y="499.50" font-size="35" textLength="13.60" lengthAdjust="spacingAndGlyphs" style="font-family:'Liberation Serif', serif;" fill="#000" >s</text>
<rect x="501.20" y="480.10" width="16.1" height="1.5" fill="#000"/>
<text x="519.80" y="486.90" font-size="24.5" textLength="13.07" lengthAdjust="spacingAndGlyphs" style="font-family:'Liberation Serif', serif;" fill="#000" >1</text>
<path d="M545.60,468.60H538.20V470.00H543.40V506.10H538.20V507.50H545.60Z" fill="#000"/>
<text x="1041.41" y="499.40" font-size="35" textLength="110.81" lengthAdjust="spacingAndGlyphs" style="font-family:'Liberation Serif', serif;" fill="#000" >reaction</text>
<text x="1160.50" y="499.40" font-size="35" textLength="52.72" lengthAdjust="spacingAndGlyphs" style="font-family:'Liberation Serif', serif;" fill="#000" >rate</text>
<text x="1221.76" y="499.40" font-size="35" textLength="16.01" lengthAdjust="spacingAndGlyphs" style="font-family:'Liberation Serif', serif;font-style:italic;" fill="#000" >k</text>
<text x="1239.45" y="504.50" font-size="24.5" textLength="14.33" lengthAdjust="spacingAndGlyphs" style="font-family:'Liberation Serif', serif;font-style:italic;" fill="#000" >a</text>
<path d="M1264.60,468.50H1272.00V469.90H1266.80V506.00H1272.00V507.40H1264.60Z" fill="#000"/>
<text x="1275.17" y="499.40" font-size="35" textLength="13.60" lengthAdjust="spacingAndGlyphs" style="font-family:'Liberation Serif', serif;" fill="#000" >s</text>
<rect x="1291.20" y="480.00" width="16.1" height="1.5" fill="#000"/>
<text x="1309.80" y="486.80" font-size="24.5" textLength="13.07" lengthAdjust="spacingAndGlyphs" style="font-family:'Liberation Serif', serif;" fill="#000" >1</text>
<path d="M1335.60,468.50H1328.20V469.90H1333.40V506.00H1328.20V507.40H1335.60Z" fill="#000"/>
<text x="251.61" y="1019.80" font-size="35" textLength="110.81" lengthAdjust="spacingAndGlyphs" style="font-family:'Liberation Serif', serif;" fill="#000" >reaction</text>
<text x="370.70" y="1019.80" font-size="35" textLength="52.72" lengthAdjust="spacingAndGlyphs" style="font-family:'Liberation Serif', serif;" fill="#000" >rate</text>
<text x="431.96" y="1019.80" font-size="35" textLength="16.01" lengthAdjust="spacingAndGlyphs" style="font-family:'Liberation Serif', serif;font-style:italic;" fill="#000" >k</text>
<text x="449.65" y="1024.90" font-size="24.5" textLength="14.33" lengthAdjust="spacingAndGlyphs" style="font-family:'Liberation Serif', serif;font-style:italic;" fill="#000" >a</text>
<path d="M474.80,988.90H482.20V990.30H477.00V1026.40H482.20V1027.80H474.80Z" fill="#000"/>
<text x="485.37" y="1019.80" font-size="35" textLength="13.60" lengthAdjust="spacingAndGlyphs" style="font-family:'Liberation Serif', serif;" fill="#000" >s</text>
<rect x="501.40" y="1000.40" width="16.1" height="1.5" fill="#000"/>
<text x="520.00" y="1007.20" font-size="24.5" textLength="13.07" lengthAdjust="spacingAndGlyphs" style="font-family:'Liberation Serif', serif;" fill="#000" >1</text>
<path d="M545.80,988.90H538.40V990.30H543.60V1026.40H538.40V1027.80H545.80Z" fill="#000"/>
<text x="1041.41" y="1019.80" font-size="35" textLength="110.81" lengthAdjust="spacingAndGlyphs" style="font-family:'Liberation Serif', serif;" fill="#000" >reaction</text>
<text x="1160.50" y="1019.80" font-size="35" textLength="52.72" lengthAdjust="spacingAndGlyphs" style="font-family:'Liberation Serif', serif;" fill="#000" >rate</text>
<text x="1221.76" y="1019.80" font-size="35" textLength="16.01" lengthAdjust="spacingAndGlyphs" style="font-family:'Liberation Serif', serif;font-style:italic;" fill="#000" >k</text>
<text x="1239.45" y="1024.90" font-size="24.5" textLength="14.33" lengthAdjust="spacingAndGlyphs" style="font-family:'Liberation Serif', serif;font-style:italic;" fill="#000" >a</text>
<path d="M1264.60,988.90H1272.00V990.30H1266.80V1026.40H1272.00V1027.80H1264.60Z" fill="#000"/>
<text x="1275.17" y="1019.80" font-size="35" textLength="13.60" lengthAdjust="spacingAndGlyphs" style="font-family:'Liberation Serif', serif;" fill="#000" >s</text>
<rect x="1291.20" y="1000.40" width="16.1" height="1.5" fill="#000"/>
<text x="1309.80" y="1007.20" font-size="24.5" textLength="13.07" lengthAdjust="spacingAndGlyphs" style="font-family:'Liberation Serif', serif;" fill="#000" >1</text>
<path d="M1335.60,988.90H1328.20V990.30H1333.40V1026.40H1328.20V1027.80H1335.60Z" fill="#000"/>
<g transform="translate(38.0,406.7) rotate(-90)">
<text x="-0.77" y="0.00" font-size="33" textLength="79.73" lengthAdjust="spacingAndGlyphs" style="font-family:'Liberation Serif', serif;" fill="#000" >mean</text>
<text x="90.19" y="0.00" font-size="33" textLength="118.06" lengthAdjust="spacingAndGlyphs" style="font-family:'Liberation Serif', serif;" fill="#000" >polarity</text>
<path d="M227.30,-33.70L219.60,-12.40L227.30,8.90" stroke="#000" stroke-width="1.1" fill="none"/>
<path d="M230.40,-28.70V5.10" stroke="#000" stroke-width="1.3" fill="none"/>
<text x="236.31" y="0.00" font-size="35" textLength="24.74" lengthAdjust="spacingAndGlyphs" style="font-family:'Liberation Serif', serif;font-weight:bold;" fill="#000" >P</text>
<path d="M264.80,-28.70V5.10" stroke="#000" stroke-width="1.3" fill="none"/>
<path d="M268.40,-33.70L275.40,-12.40L268.40,8.90" stroke="#000" stroke-width="1.1" fill="none"/>
<path d="M287.30,-25.60H291.50V-24.30H289.20V7.60H291.50V8.90H287.30Z" fill="#000"/>
<text x="293.14" y="0.00" font-size="33" textLength="20.30" lengthAdjust="spacingAndGlyphs" style="font-family:'Liberation Serif', serif;font-style:italic;" fill="#000" >μ</text>
<text x="313.65" y="0.00" font-size="33" textLength="27.70" lengthAdjust="spacingAndGlyphs" style="font-family:'Liberation Serif', serif;" fill="#000" >m</text>
<path d="M348.90,-25.60H344.30V-24.30H347.00V7.60H344.30V8.90H348.90Z" fill="#000"/>
</g>
<g transform="translate(794.0,414.2) rotate(-90)">
<text x="-0.77" y="0.00" font-size="33" textLength="79.22" lengthAdjust="spacingAndGlyphs" style="font-family:'Liberation Serif', serif;" fill="#000" >mean</text>
<text x="91.30" y="0.00" font-size="33" textLength="113.54" lengthAdjust="spacingAndGlyphs" style="font-family:'Liberation Serif', serif;" fill="#000" >velocity</text>
<path d="M224.10,-32.00L216.80,-11.50L224.10,9.00" stroke="#000" stroke-width="1.1" fill="none"/>
<path d="M227.40,-28.80V4.80" stroke="#000" stroke-width="1.3" fill="none"/>
<text x="229.96" y="0.00" font-size="35" textLength="28.59" lengthAdjust="spacingAndGlyphs" style="font-family:'Liberation Serif', serif;font-weight:bold;" fill="#000" >V</text>
<path d="M261.80,-28.80V4.80" stroke="#000" stroke-width="1.3" fill="none"/>
<path d="M265.00,-32.00L272.20,-11.50L265.00,9.00" stroke="#000" stroke-width="1.1" fill="none"/>
<path d="M284.90,-25.90H289.00V-24.60H286.80V6.90H289.00V8.20H284.90Z" fill="#000"/>
<text x="291.54" y="0.00" font-size="33" textLength="19.13" lengthAdjust="spacingAndGlyphs" style="font-family:'Liberation Serif', serif;font-style:italic;" fill="#000" >μ</text>
<text x="310.64" y="0.00" font-size="33" textLength="28.33" lengthAdjust="spacingAndGlyphs" style="font-family:'Liberation Serif', serif;" fill="#000" >m</text>
<path d="M341.9,8.2L353.7,-25.9" stroke="#000" stroke-width="1.2"/>
<text x="355.66" y="0.00" font-size="33" textLength="14.59" lengthAdjust="spacingAndGlyphs" style="font-family:'Liberation Serif', serif;" fill="#000" >s</text>
<path d="M379.10,-25.90H374.50V-24.60H377.20V6.90H374.50V8.20H379.10Z" fill="#000"/>
</g>
<g transform="translate(31.7,863.7) rotate(-90)">
<text x="-0.73" y="0.00" font-size="33" textLength="75.05" lengthAdjust="spacingAndGlyphs" style="font-family:'Liberation Serif', serif;" fill="#000" >mean</text>
<text x="82.57" y="0.00" font-size="33" textLength="75.74" lengthAdjust="spacingAndGlyphs" style="font-family:'Liberation Serif', serif;" fill="#000" >angle</text>
<text x="165.02" y="0.00" font-size="33" textLength="16.88" lengthAdjust="spacingAndGlyphs" style="font-family:'Liberation Serif', serif;font-style:italic;" fill="#000" >θ</text>
<rect x="170.7" y="-29.5" width="12.2" height="1.7" fill="#000"/>
<path d="M195.10,-25.60H199.90V-24.30H197.00V7.20H199.90V8.50H195.10Z" fill="#000"/>
<circle cx="207.55" cy="-18.45" r="4.6" fill="none" stroke="#000" stroke-width="1.1"/>
<path d="M221.70,-25.60H217.40V-24.30H219.80V7.20H217.40V8.50H221.70Z" fill="#000"/>
</g>
<g transform="translate(792.8,822.5) rotate(-90)">
<text x="-1.22" y="0.00" font-size="33" textLength="75.33" lengthAdjust="spacingAndGlyphs" style="font-family:'Liberation Serif', serif;" fill="#000" >angle</text>
<text x="81.63" y="0.00" font-size="33" textLength="16.77" lengthAdjust="spacingAndGlyphs" style="font-family:'Liberation Serif', serif;font-style:italic;" fill="#000" >θ</text>
<path d="M111.90,-25.70H115.90V-24.40H113.80V7.10H115.90V8.40H111.90Z" fill="#000"/>
<circle cx="124.1" cy="-18.35" r="4.6" fill="none" stroke="#000" stroke-width="1.1"/>
<path d="M138.30,-25.70H133.80V-24.40H136.40V7.10H133.80V8.40H138.30Z" fill="#000"/>
</g>
</svg></body></html>
